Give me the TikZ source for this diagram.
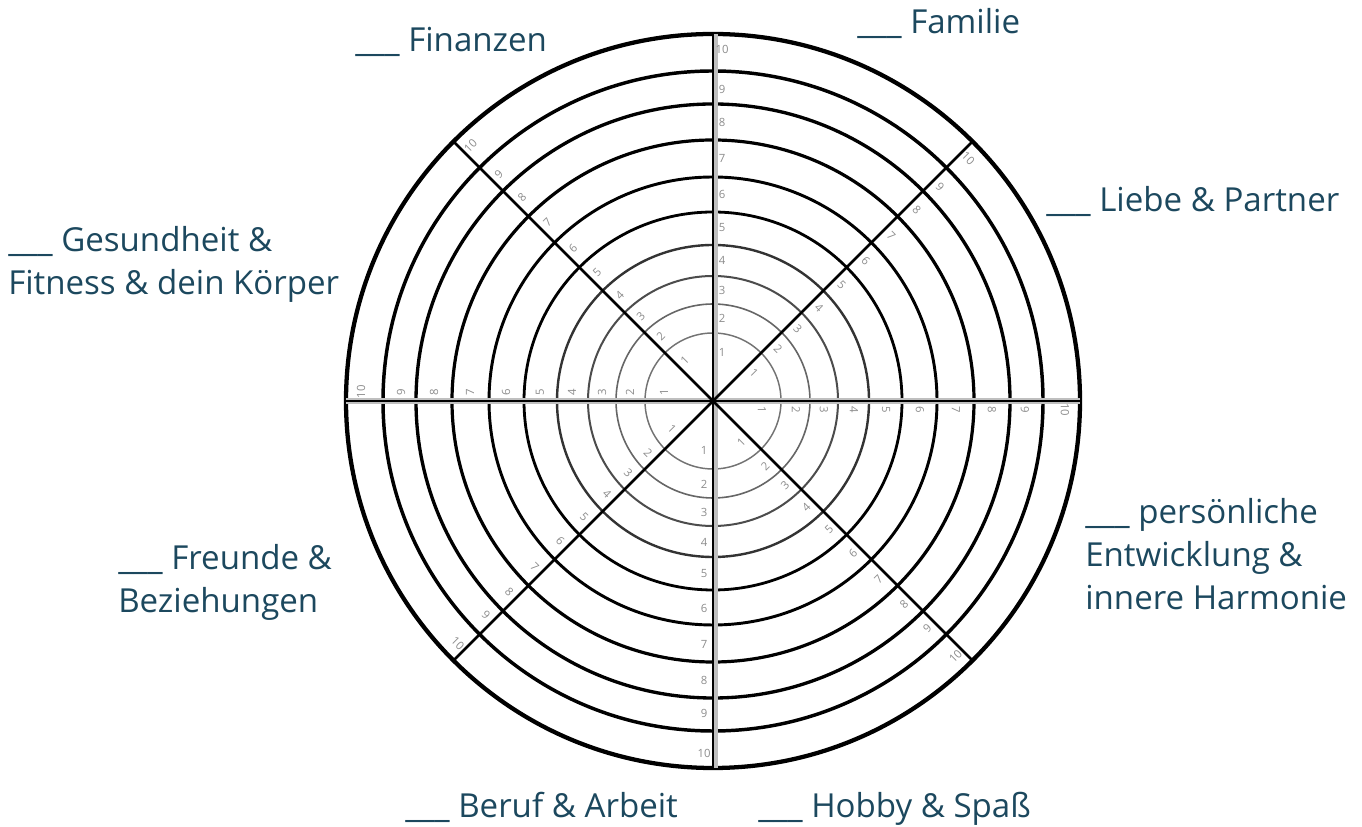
\documentclass[tikz,border=0pt]{standalone}
\usepackage{fontspec}
\setmainfont{Open Sans}
\usetikzlibrary{calc}
\definecolor{labelblue}{RGB}{28,72,94}
\tikzset{
  area/.style={font=\fontsize{24.8}{32.4}\selectfont,text=labelblue,align=left,anchor=base west,inner sep=0pt},
  scalenum/.style={font=\fontsize{8.5}{9}\selectfont,text=black!45,inner sep=0pt},
  spoke/.style={line width=2.2pt,black}
}
\begin{document}
\begin{tikzpicture}[x=0.75pt,y=0.75pt]
\useasboundingbox (0,0) rectangle (1362,827);
\coordinate (c) at (713,426);
% rings of the wheel
\foreach \r/\w/\g in {68/1.1/55,97/1.2/60,125/1.5/70,156/1.8/80,189/2.1/100,224/2.2/100,261/2.4/100,297/2.5/100,330/2.6/100,367/3.2/100}
  \draw[line width=\w pt,black!\g] (c) circle[radius=\r];
% spokes
\foreach \a/\n in {90/n,45/ne,0/e,-45/se,-90/s,-135/sw,180/w,135/nw}
  \coordinate (\n) at ($(c)+(\a:367)$);
\draw[line width=4.5pt,black!25] ([xshift=1.5]n) -- ([xshift=1.5]s);
\draw[line width=4.5pt,black!25] (w) -- (e);
\draw[spoke] (n) -- (s);
\draw[spoke] (w) -- (e);
\draw[spoke,line width=2pt] (nw) -- (se);
\draw[spoke,line width=2pt] (ne) -- (sw);
% scale numbers
\foreach \a in {90,45,0,-45,-90,-135,180,135}{
  \pgfmathsetmacro\p{\a-90}
  \pgfmathsetmacro\rot{\a>=0 ? \a-90 : \a+90}
  \foreach \k/\m in {1/49,2/83,3/111,4/141,5/173,6/207,7/243,8/279,9/312,10/352}
    \node[scalenum,rotate=\rot] at ($(c)+(\a:\m)+(\p:9)$) {\k};
}
% life areas
\node[area] (familie) at (857,793) {\_\_\_ Familie};
\node[area] (finanzen) at (355,775) {\_\_\_ Finanzen};
\node[area] (liebe) at (1046,615) {\_\_\_ Liebe \& Partner};
\node[area] (gesundheit) at (8,532) {\_\_\_ Gesundheit \&\\Fitness \& dein Körper};
\node[area] (entwicklung) at (1085,217) {\_\_\_ persönliche\\Entwicklung \&\\innere Harmonie};
\node[area] (freunde) at (118,214) {\_\_\_ Freunde \&\\Beziehungen};
\node[area] (beruf) at (405,9) {\_\_\_ Beruf \& Arbeit};
\node[area] (hobby) at (758,9) {\_\_\_ Hobby \& Spaß};
\end{tikzpicture}
\end{document}
